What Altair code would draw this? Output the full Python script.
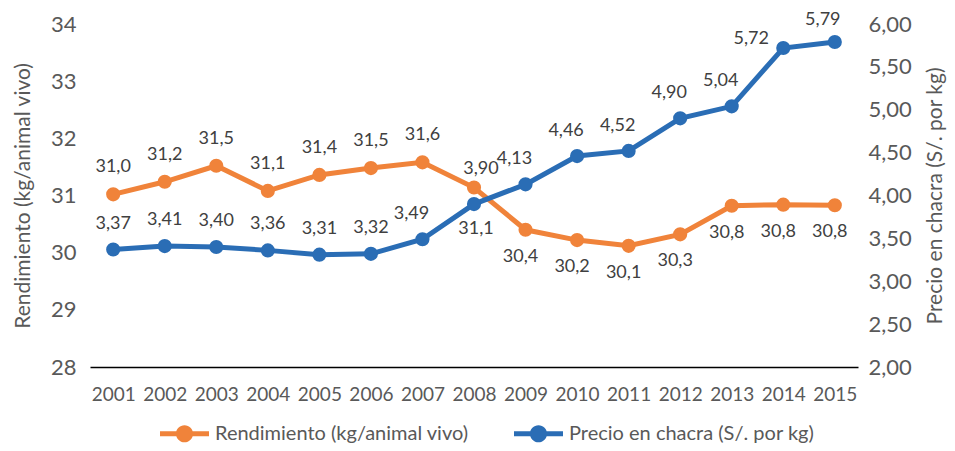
import altair as alt
import pandas as pd

years = [str(y) for y in range(2001, 2016)]
rendimiento = [31.02, 31.24, 31.52, 31.08, 31.36, 31.48, 31.58, 31.14,
               30.40, 30.22, 30.12, 30.32, 30.82, 30.84, 30.83]
precio = [3.37, 3.41, 3.40, 3.36, 3.31, 3.32, 3.49, 3.90,
          4.13, 4.46, 4.52, 4.90, 5.04, 5.72, 5.79]
serie_names = ["Rendimiento (kg/animal vivo)", "Precio en chacra (S/. por kg)"]
colors = ["#F0833A", "#2A6DB5"]
left_ticks = [28, 29, 30, 31, 32, 33, 34]
right_ticks = [2.0, 2.5, 3.0, 3.5, 4.0, 4.5, 5.0, 5.5, 6.0]

df = pd.DataFrame({"year": years, "rend": rendimiento, "precio": precio})
df["yr"] = df["year"].astype(int)

FONT = "Lato"
AX_GRAY = "#595959"
LAB_GRAY = "#404040"

base = alt.Chart(df).transform_calculate(
    lab_r="replace(format(datum.rend, '.1f'), '.', ',')",
    lab_p="replace(format(datum.precio, '.2f'), '.', ',')",
)

X = alt.X(
    "year:O",
    scale=alt.Scale(padding=0.45),
    axis=alt.Axis(title=None, labelAngle=0, labelFontSize=19, labelColor=AX_GRAY,
                  labelPadding=18, ticks=False, domainColor="#000000",
                  domainWidth=1.5, grid=False),
)

yL_scale = alt.Scale(domain=[28, 34], nice=False, zero=False)
yR_scale = alt.Scale(domain=[2, 6], nice=False, zero=False)

yL_axis = alt.Axis(title=serie_names[0], values=left_ticks, labelFontSize=22,
                   labelColor=AX_GRAY, titleFontSize=21, titleColor=AX_GRAY,
                   titleFontWeight="normal", ticks=False, domain=False,
                   grid=False, labelPadding=14, titlePadding=17)
yR_axis = alt.Axis(title=serie_names[1], orient="right", values=right_ticks,
                   labelExpr="replace(format(datum.value, '.2f'), '.', ',')",
                   labelFontSize=22, labelColor=AX_GRAY, titleFontSize=21,
                   titleColor=AX_GRAY, titleFontWeight="normal", titleAngle=270,
                   titleBaseline="top",
                   ticks=False, domain=False, grid=False, labelPadding=10,
                   titlePadding=13)

legend_path = ("M-1,-0.1 L1,-0.1 L1,0.1 L-1,0.1 Z "
               "M-0.35,0 A0.35,0.35 0 1,1 0.35,0 A0.35,0.35 0 1,1 -0.35,0 Z")
legend = alt.Legend(
    title=None, orient="none", legendX=70, legendY=385, direction="horizontal",
    symbolType=legend_path, symbolSize=2401, symbolStrokeWidth=0,
    labelFontSize=20, labelColor=AX_GRAY, columnPadding=45, labelOffset=6,
    labelLimit=400,
)
color_scale = alt.Scale(domain=serie_names, range=colors)

# Orange series (left axis)
line_o = base.mark_line(color=colors[0], strokeWidth=5).encode(
    x=X, y=alt.Y("rend:Q", scale=yL_scale, axis=yL_axis),
)
pts_o = base.transform_calculate(serie=f"'{serie_names[0]}'").mark_circle(
    size=200, opacity=1).encode(
    x=X, y=alt.Y("rend:Q", scale=yL_scale, axis=yL_axis),
    color=alt.Color("serie:N", scale=color_scale, legend=legend),
)


def text_layer(field, lab, cond, dx, dy, scale, axis):
    return base.transform_filter(cond).mark_text(
        dx=dx, dy=dy, fontSize=18, color=LAB_GRAY, font=FONT
    ).encode(x=X, y=alt.Y(field, scale=scale, axis=axis), text=f"{lab}:N")


txt_o = [
    text_layer("rend:Q", "lab_r", "datum.yr <= 2007", 0, -27, yL_scale, yL_axis),
    text_layer("rend:Q", "lab_r", "datum.yr == 2008", 2, 42, yL_scale, yL_axis),
    text_layer("rend:Q", "lab_r", "datum.yr >= 2009", -5, 27, yL_scale, yL_axis),
]

# Blue series (right axis)
line_b = base.mark_line(color=colors[1], strokeWidth=5).encode(
    x=X, y=alt.Y("precio:Q", scale=yR_scale, axis=yR_axis),
)
pts_b = base.transform_calculate(serie=f"'{serie_names[1]}'").mark_circle(
    size=200, opacity=1).encode(
    x=X, y=alt.Y("precio:Q", scale=yR_scale, axis=yR_axis),
    color=alt.Color("serie:N", scale=color_scale, legend=legend),
)
txt_b = [
    text_layer("precio:Q", "lab_p", "datum.yr <= 2006", 0, -26, yR_scale, yR_axis),
    text_layer("precio:Q", "lab_p",
               "datum.yr == 2007 || (datum.yr >= 2009 && datum.yr <= 2013)",
               -11, -25, yR_scale, yR_axis),
    text_layer("precio:Q", "lab_p", "datum.yr == 2008", 7, -35, yR_scale, yR_axis),
    text_layer("precio:Q", "lab_p", "datum.yr == 2014", -32, -9, yR_scale, yR_axis),
    text_layer("precio:Q", "lab_p", "datum.yr == 2015", -12, -22, yR_scale, yR_axis),
]

left = alt.layer(line_o, pts_o, *txt_o)
right = alt.layer(line_b, pts_b, *txt_b)

chart = alt.layer(left, right).resolve_scale(y="independent").properties(
    width=768, height=343,
    autosize=alt.AutoSizeParams(type="none"),
    padding={"left": 82, "top": 16, "right": 89, "bottom": 76},
).configure(font=FONT).configure_view(stroke=None)

chart.save("out.html", embed_options={"renderer": "svg", "actions": False})
